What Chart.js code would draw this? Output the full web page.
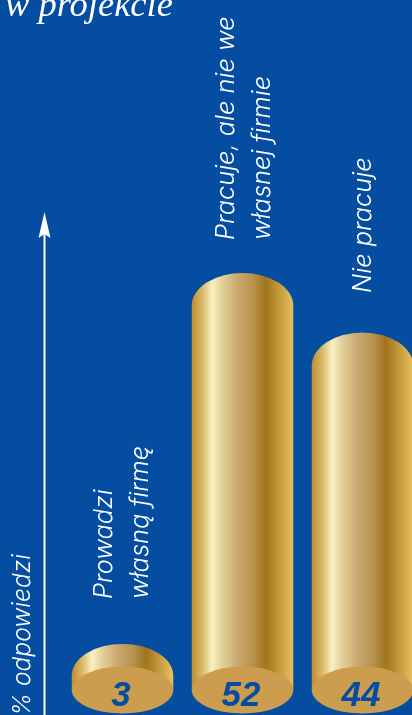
<!DOCTYPE html>
<html><head><meta charset="utf-8">
<style>html,body{margin:0;padding:0;background:#044da1;overflow:hidden;width:412px;height:715px}canvas{display:block}</style>
<script src="https://cdn.jsdelivr.net/npm/chart.js@4"></script></head>
<body><canvas id="c" width="440" height="715" style="width:440px;height:715px"></canvas>
<script>
const categories = [["Prowadzi","własną firmę"],["Pracuje, ale nie we","własnej firmie"],["Nie pracuje"]];
const values = [3, 52, 44];
const titleText = "w projekcie";
const axisText = "% odpowiedzi";

const BLUE = "#044da1", FACE = "#cc9d4f";
const capRy = [31, 32, 33];
const labelBase = [[112, 599],[234, 240],[371, 293]];
const lineGap = 36;

function gold(ctx, l, r){
  const g = ctx.createLinearGradient(l,0,r,0);
  g.addColorStop(0,"#bd8d30");
  g.addColorStop(0.1,"#d9b767");
  g.addColorStop(0.2,"#f8f0c0");
  g.addColorStop(0.3,"#e3d09a");
  g.addColorStop(0.45,"#c9a96f");
  g.addColorStop(0.6,"#b89350");
  g.addColorStop(0.73,"#a0741c");
  g.addColorStop(1,"#e9c25f");
  return g;
}
const cylinder = {
  id:"cylinder",
  beforeDatasetsDraw(chart){
    const c = chart.ctx;
    chart.getDatasetMeta(0).data.forEach(b=>{
      const w=b.width/2;
      b.options = Object.assign({}, b.options, {backgroundColor:gold(c,b.x-w,b.x+w)});
    });
  },
  afterDatasetsDraw(chart){
    const c = chart.ctx, meta = chart.getDatasetMeta(0);
    c.save();
    meta.data.forEach((b,i)=>{
      const w = b.width/2;
      c.fillStyle = gold(c,b.x-w,b.x+w);
      c.beginPath(); c.ellipse(b.x,b.y+0.5,w,capRy[i]+0.5,0,Math.PI,2*Math.PI); c.fill();
      c.fillStyle = FACE;
      c.beginPath(); c.ellipse(b.x,b.base,w,23.5,0,0,2*Math.PI); c.fill();
      c.fillStyle = BLUE;
      c.font = "italic bold 35px 'Liberation Sans'";
      c.textAlign="center"; c.textBaseline="alphabetic";
      c.fillText(String(values[i]),b.x-1.5,b.base+16);
    });
    c.restore();
    // axis arrow
    c.save();
    c.strokeStyle="#fff"; c.fillStyle="#fff"; c.lineWidth=2;
    c.beginPath(); c.moveTo(44.5,715); c.lineTo(44.5,225); c.stroke();
    c.beginPath(); c.moveTo(44.5,212); c.lineTo(50.5,238); c.lineTo(44.5,234); c.lineTo(38.5,238); c.closePath(); c.fill();
    c.restore();
    // rotated text
    const rot=(t,x,y,font)=>{c.save();c.translate(x,y);c.rotate(-Math.PI/2);c.font=font;c.fillStyle="#fff";c.textAlign="left";c.textBaseline="alphabetic";c.fillText(t,0,0);c.restore();};
    const lf="italic 300 25.4px Inter";
    categories.forEach((lines,i)=>lines.forEach((t,j)=>{
      rot(t,labelBase[i][0]+j*lineGap,labelBase[i][1],lf);
    }));
    rot(axisText,30,716,"italic 300 24.6px Inter");
    c.save(); c.fillStyle="#fff"; c.font="italic 36.5px 'Liberation Serif'"; c.textAlign="left"; c.fillText(titleText,5,16); c.restore();
  }
};
new Chart(document.getElementById("c"),{
  type:"bar",
  data:{labels:categories,datasets:[{data:values,base:1,
    backgroundColor:"#c9a96f",
    borderWidth:0,barPercentage:1,categoryPercentage:0.846}]},
  options:{responsive:false,animation:false,devicePixelRatio:1,
    layout:{padding:{left:62.5,right:17.5,top:0,bottom:17.4}},
    plugins:{legend:{display:false},tooltip:{enabled:false}},
    scales:{x:{display:false},y:{display:false,min:0,max:92.4}}},
  plugins:[cylinder]
});
</script></body></html>
